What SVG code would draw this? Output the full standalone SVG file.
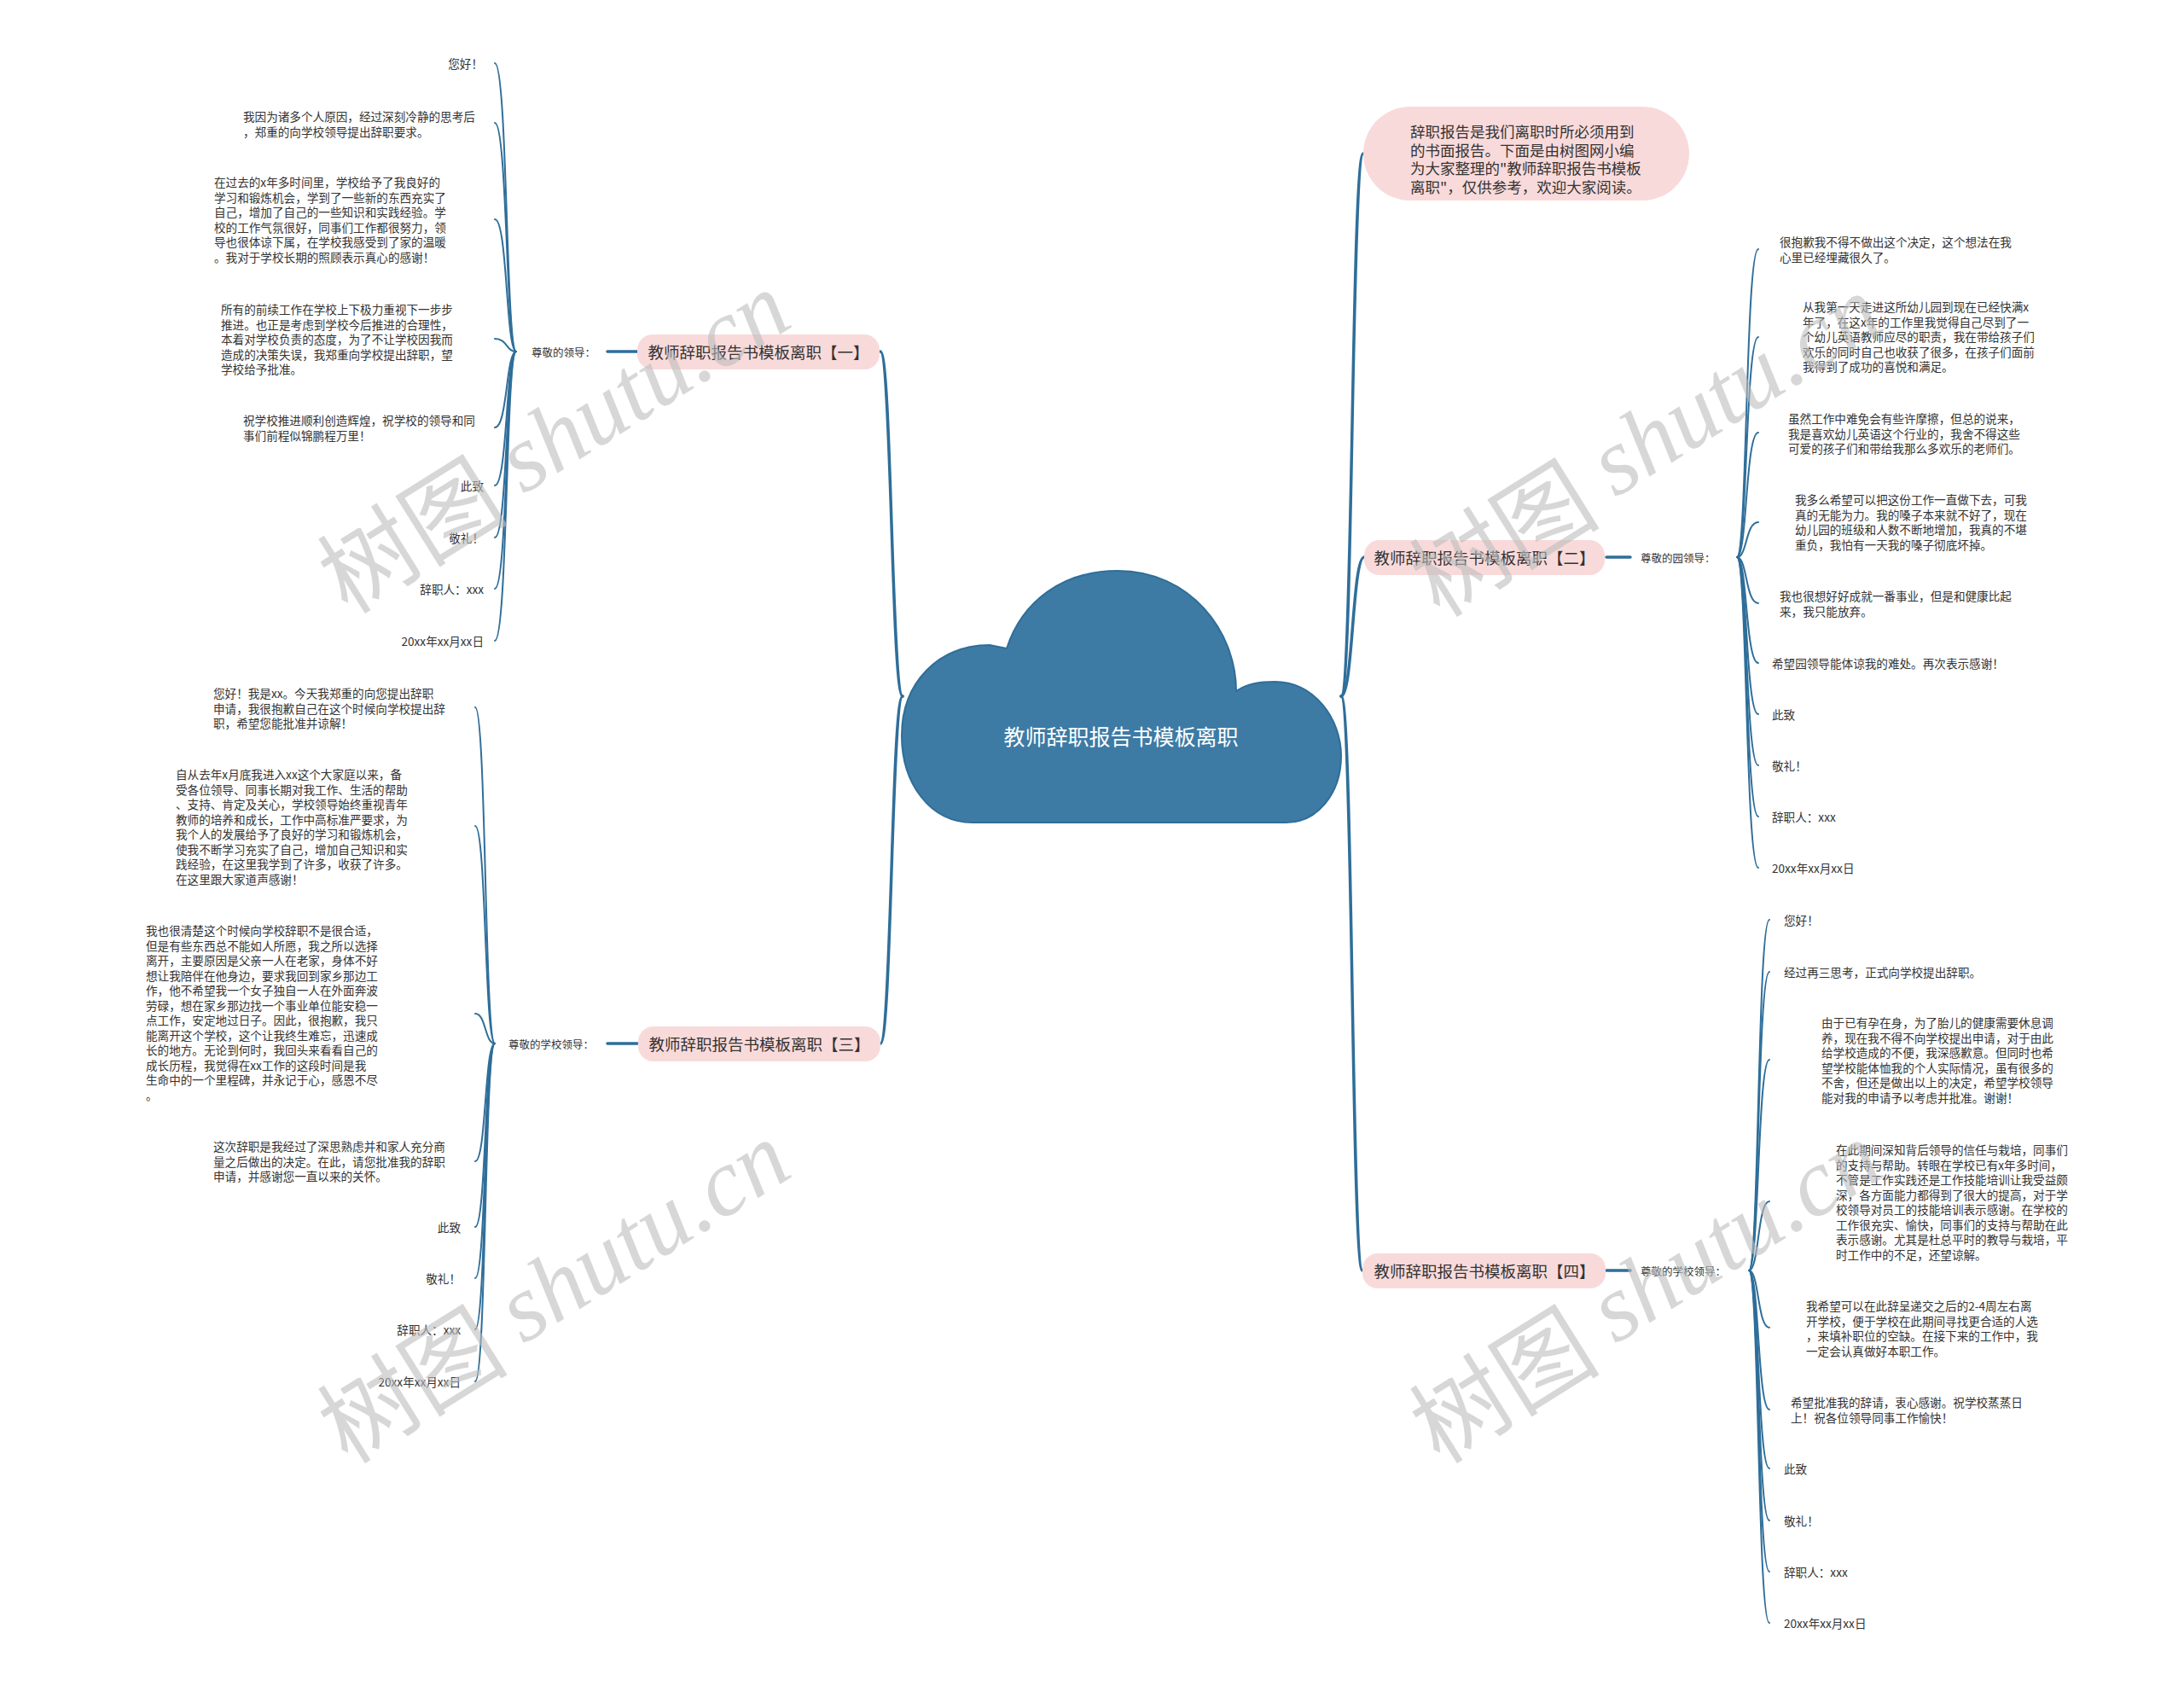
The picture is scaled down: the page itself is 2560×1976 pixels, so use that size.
<svg xmlns="http://www.w3.org/2000/svg" width="2560" height="1976" viewBox="0 0 2560 1976">
<style>
.t{font-family:"Noto Sans CJK SC","Noto Sans",sans-serif;font-size:13.6px;fill:#333;dominant-baseline:central}
.lb{font-size:12.5px}
.nt{font-size:18.5px;text-anchor:middle}
.ct{font-size:17.5px}
.e{text-anchor:end}
.node{fill:#f9dada}
.c{fill:none;stroke:#2f6e99;stroke-width:2;stroke-linecap:round}
.m{stroke-width:3.5}
.wm{font-family:"Noto Sans CJK SC",sans-serif;font-size:112px;fill:#bdbdbd;opacity:0.6}
.wm tspan.l{font-family:"Liberation Serif",serif;font-style:italic}
</style>
<rect width="2560" height="1976" fill="#ffffff"/>
<g id="connectors">
<path class="c m" d="M1058 816 C1045 816 1045 412 1032 412"/>
<path class="c m" d="M1058 816 C1045 816 1045 1223 1032 1223"/>
<path class="c m" d="M1572 816 C1586 816 1584 180 1598 180"/>
<path class="c m" d="M1572 816 C1586 816 1585 653 1599 653"/>
<path class="c m" d="M1572 816 C1586 816 1584 1489 1597 1489"/>
<path class="c m" d="M712 412 H747"/>
<path class="c m" d="M712 1223 H747"/>
<path class="c m" d="M1883 653 H1911"/>
<path class="c m" d="M1883 1489 H1911"/>
<path class="c" d="M605 412 C593 412 595 74 580 74"/>
<path class="c" d="M605 412 C593 412 595 144 580 144"/>
<path class="c" d="M605 412 C593 412 595 257 580 257"/>
<path class="c" d="M605 412 C593 412 595 397 580 397"/>
<path class="c" d="M605 412 C593 412 595 501 580 501"/>
<path class="c" d="M605 412 C593 412 595 569 580 569"/>
<path class="c" d="M605 412 C593 412 595 630 580 630"/>
<path class="c" d="M605 412 C593 412 595 690 580 690"/>
<path class="c" d="M605 412 C593 412 595 751 580 751"/>
<path class="c" d="M580 1223 C568 1223 570 829 557 829"/>
<path class="c" d="M580 1223 C568 1223 570 968 557 968"/>
<path class="c" d="M580 1223 C568 1223 570 1188 557 1188"/>
<path class="c" d="M580 1223 C568 1223 570 1361 557 1361"/>
<path class="c" d="M580 1223 C568 1223 570 1438 557 1438"/>
<path class="c" d="M580 1223 C568 1223 570 1498 557 1498"/>
<path class="c" d="M580 1223 C568 1223 570 1558 557 1558"/>
<path class="c" d="M580 1223 C568 1223 570 1619 557 1619"/>
<path class="c" d="M2036 653 C2048 653 2046 292 2061 292"/>
<path class="c" d="M2036 653 C2048 653 2046 395 2061 395"/>
<path class="c" d="M2036 653 C2048 653 2046 507 2061 507"/>
<path class="c" d="M2036 653 C2048 653 2046 612 2061 612"/>
<path class="c" d="M2036 653 C2048 653 2046 707 2061 707"/>
<path class="c" d="M2036 653 C2048 653 2046 777 2061 777"/>
<path class="c" d="M2036 653 C2048 653 2046 837 2061 837"/>
<path class="c" d="M2036 653 C2048 653 2046 897 2061 897"/>
<path class="c" d="M2036 653 C2048 653 2046 957 2061 957"/>
<path class="c" d="M2036 653 C2048 653 2046 1017 2061 1017"/>
<path class="c" d="M2050 1489 C2062 1489 2060 1078 2074 1078"/>
<path class="c" d="M2050 1489 C2062 1489 2060 1139 2074 1139"/>
<path class="c" d="M2050 1489 C2062 1489 2060 1242 2074 1242"/>
<path class="c" d="M2050 1489 C2062 1489 2060 1408 2074 1408"/>
<path class="c" d="M2050 1489 C2062 1489 2060 1556 2074 1556"/>
<path class="c" d="M2050 1489 C2062 1489 2060 1652 2074 1652"/>
<path class="c" d="M2050 1489 C2062 1489 2060 1721 2074 1721"/>
<path class="c" d="M2050 1489 C2062 1489 2060 1782 2074 1782"/>
<path class="c" d="M2050 1489 C2062 1489 2060 1842 2074 1842"/>
<path class="c" d="M2050 1489 C2062 1489 2060 1902 2074 1902"/>
</g>
<g id="root">
<path d="M1140 964 C1090 964 1057 918 1057 862 C1057 800 1100 756 1160 756 L1180 760 C1198 705 1245 669 1310 669 C1395 669 1449 740 1449 810 C1462 801 1476 799 1494 799 C1540 799 1572 842 1572 886 C1572 932 1542 964 1508 964 Z" fill="#3d7ba5" stroke="#2f6e99" stroke-width="2"/>
<text class="t" x="1314" y="862" style="font-size:25px;fill:#fff;text-anchor:middle">教师辞职报告书模板离职</text>
</g>
<g id="intro">
<rect class="node" x="1598" y="125" width="382" height="110" rx="55"/>
<text class="t ct" x="1653" y="153"><tspan x="1653" y="153">辞职报告是我们离职时所必须用到</tspan><tspan x="1653" y="174.5">的书面报告。下面是由树图网小编</tspan><tspan x="1653" y="196">为大家整理的"教师辞职报告书模板</tspan><tspan x="1653" y="217.5">离职"，仅供参考，欢迎大家阅读。</tspan></text>
</g>
<g id="branch1">
<rect class="node" x="747" y="392" width="284" height="41" rx="18"/>
<text class="t nt" x="889" y="412">教师辞职报告书模板离职【一】</text>
</g>
<g id="label1"><text class="t lb" x="623" y="412">尊敬的领导：</text></g>
<g id="b1c1"><text class="t e" x="566" y="74">您好！</text></g>
<g id="b1c2"><text class="t"><tspan x="285" y="136">我因为诸多个人原因，经过深刻冷静的思考后</tspan><tspan x="285" y="153.5">，郑重的向学校领导提出辞职要求。</tspan></text></g>
<g id="b1c3"><text class="t"><tspan x="251" y="213">在过去的x年多时间里，学校给予了我良好的</tspan><tspan x="251" y="230.5">学习和锻炼机会，学到了一些新的东西充实了</tspan><tspan x="251" y="248">自己，增加了自己的一些知识和实践经验。学</tspan><tspan x="251" y="265.5">校的工作气氛很好，同事们工作都很努力，领</tspan><tspan x="251" y="283">导也很体谅下属，在学校我感受到了家的温暖</tspan><tspan x="251" y="300.5">。我对于学校长期的照顾表示真心的感谢！</tspan></text></g>
<g id="b1c4"><text class="t"><tspan x="259" y="362">所有的前续工作在学校上下极力重视下一步步</tspan><tspan x="259" y="379.5">推进。也正是考虑到学校今后推进的合理性，</tspan><tspan x="259" y="397">本着对学校负责的态度，为了不让学校因我而</tspan><tspan x="259" y="414.5">造成的决策失误，我郑重向学校提出辞职，望</tspan><tspan x="259" y="432">学校给予批准。</tspan></text></g>
<g id="b1c5"><text class="t"><tspan x="285" y="492">祝学校推进顺利创造辉煌，祝学校的领导和同</tspan><tspan x="285" y="509.5">事们前程似锦鹏程万里！</tspan></text></g>
<g id="b1c6"><text class="t e" x="567" y="569">此致</text></g>
<g id="b1c7"><text class="t e" x="567" y="630">敬礼！</text></g>
<g id="b1c8"><text class="t e" x="567" y="690">辞职人：xxx</text></g>
<g id="b1c9"><text class="t e" x="567" y="751">20xx年xx月xx日</text></g>
<g id="branch3">
<rect class="node" x="748" y="1203" width="284" height="41" rx="18"/>
<text class="t nt" x="890" y="1223">教师辞职报告书模板离职【三】</text>
</g>
<g id="label3"><text class="t lb" x="596" y="1223">尊敬的学校领导：</text></g>
<g id="b3c1"><text class="t"><tspan x="250" y="812">您好！我是xx。今天我郑重的向您提出辞职</tspan><tspan x="250" y="829.5">申请，我很抱歉自己在这个时候向学校提出辞</tspan><tspan x="250" y="847">职，希望您能批准并谅解！</tspan></text></g>
<g id="b3c2"><text class="t"><tspan x="206" y="907">自从去年x月底我进入xx这个大家庭以来，备</tspan><tspan x="206" y="924.5">受各位领导、同事长期对我工作、生活的帮助</tspan><tspan x="206" y="942">、支持、肯定及关心，学校领导始终重视青年</tspan><tspan x="206" y="959.5">教师的培养和成长，工作中高标准严要求，为</tspan><tspan x="206" y="977">我个人的发展给予了良好的学习和锻炼机会，</tspan><tspan x="206" y="994.5">使我不断学习充实了自己，增加自己知识和实</tspan><tspan x="206" y="1012">践经验，在这里我学到了许多，收获了许多。</tspan><tspan x="206" y="1029.5">在这里跟大家道声感谢！</tspan></text></g>
<g id="b3c3"><text class="t"><tspan x="171" y="1090">我也很清楚这个时候向学校辞职不是很合适，</tspan><tspan x="171" y="1107.5">但是有些东西总不能如人所愿，我之所以选择</tspan><tspan x="171" y="1125">离开，主要原因是父亲一人在老家，身体不好</tspan><tspan x="171" y="1142.5">想让我陪伴在他身边，要求我回到家乡那边工</tspan><tspan x="171" y="1160">作，他不希望我一个女子独自一人在外面奔波</tspan><tspan x="171" y="1177.5">劳碌，想在家乡那边找一个事业单位能安稳一</tspan><tspan x="171" y="1195">点工作，安定地过日子。因此，很抱歉，我只</tspan><tspan x="171" y="1212.5">能离开这个学校，这个让我终生难忘，迅速成</tspan><tspan x="171" y="1230">长的地方。无论到何时，我回头来看看自己的</tspan><tspan x="171" y="1247.5">成长历程，我觉得在xx工作的这段时间是我</tspan><tspan x="171" y="1265">生命中的一个里程碑，并永记于心，感恩不尽</tspan><tspan x="171" y="1282.5">。</tspan></text></g>
<g id="b3c4"><text class="t"><tspan x="250" y="1343">这次辞职是我经过了深思熟虑并和家人充分商</tspan><tspan x="250" y="1360.5">量之后做出的决定。在此，请您批准我的辞职</tspan><tspan x="250" y="1378">申请，并感谢您一直以来的关怀。</tspan></text></g>
<g id="b3c5"><text class="t e" x="540" y="1438">此致</text></g>
<g id="b3c6"><text class="t e" x="540" y="1498">敬礼！</text></g>
<g id="b3c7"><text class="t e" x="540" y="1558">辞职人：xxx</text></g>
<g id="b3c8"><text class="t e" x="540" y="1619">20xx年xx月xx日</text></g>
<g id="branch2">
<rect class="node" x="1599" y="633" width="282" height="41" rx="18"/>
<text class="t nt" x="1740" y="653">教师辞职报告书模板离职【二】</text>
</g>
<g id="label2"><text class="t lb" x="1923" y="653">尊敬的园领导：</text></g>
<g id="b2c1"><text class="t"><tspan x="2086" y="283">很抱歉我不得不做出这个决定，这个想法在我</tspan><tspan x="2086" y="300.5">心里已经埋藏很久了。</tspan></text></g>
<g id="b2c2"><text class="t"><tspan x="2113" y="359">从我第一天走进这所幼儿园到现在已经快满x</tspan><tspan x="2113" y="376.5">年了，在这x年的工作里我觉得自己尽到了一</tspan><tspan x="2113" y="394">个幼儿英语教师应尽的职责，我在带给孩子们</tspan><tspan x="2113" y="411.5">欢乐的同时自己也收获了很多，在孩子们面前</tspan><tspan x="2113" y="429">我得到了成功的喜悦和满足。</tspan></text></g>
<g id="b2c3"><text class="t"><tspan x="2096" y="490">虽然工作中难免会有些许摩擦，但总的说来，</tspan><tspan x="2096" y="507.5">我是喜欢幼儿英语这个行业的，我舍不得这些</tspan><tspan x="2096" y="525">可爱的孩子们和带给我那么多欢乐的老师们。</tspan></text></g>
<g id="b2c4"><text class="t"><tspan x="2104" y="585">我多么希望可以把这份工作一直做下去，可我</tspan><tspan x="2104" y="602.5">真的无能为力。我的嗓子本来就不好了，现在</tspan><tspan x="2104" y="620">幼儿园的班级和人数不断地增加，我真的不堪</tspan><tspan x="2104" y="637.5">重负，我怕有一天我的嗓子彻底坏掉。</tspan></text></g>
<g id="b2c5"><text class="t"><tspan x="2086" y="698">我也很想好好成就一番事业，但是和健康比起</tspan><tspan x="2086" y="715.5">来，我只能放弃。</tspan></text></g>
<g id="b2c6"><text class="t" x="2077" y="777">希望园领导能体谅我的难处。再次表示感谢！</text></g>
<g id="b2c7"><text class="t" x="2077" y="837">此致</text></g>
<g id="b2c8"><text class="t" x="2077" y="897">敬礼！</text></g>
<g id="b2c9"><text class="t" x="2077" y="957">辞职人：xxx</text></g>
<g id="b2c10"><text class="t" x="2077" y="1017">20xx年xx月xx日</text></g>
<g id="branch4">
<rect class="node" x="1597" y="1469" width="285" height="41" rx="18"/>
<text class="t nt" x="1740" y="1489">教师辞职报告书模板离职【四】</text>
</g>
<g id="label4"><text class="t lb" x="1923" y="1489">尊敬的学校领导：</text></g>
<g id="b4c1"><text class="t" x="2091" y="1078">您好！</text></g>
<g id="b4c2"><text class="t" x="2091" y="1139">经过再三思考，正式向学校提出辞职。</text></g>
<g id="b4c3"><text class="t"><tspan x="2135" y="1198">由于已有孕在身，为了胎儿的健康需要休息调</tspan><tspan x="2135" y="1215.5">养，现在我不得不向学校提出申请，对于由此</tspan><tspan x="2135" y="1233">给学校造成的不便，我深感歉意。但同时也希</tspan><tspan x="2135" y="1250.5">望学校能体恤我的个人实际情况，虽有很多的</tspan><tspan x="2135" y="1268">不舍，但还是做出以上的决定，希望学校领导</tspan><tspan x="2135" y="1285.5">能对我的申请予以考虑并批准。谢谢！</tspan></text></g>
<g id="b4c4"><text class="t"><tspan x="2152" y="1347">在此期间深知背后领导的信任与栽培，同事们</tspan><tspan x="2152" y="1364.5">的支持与帮助。转眼在学校已有x年多时间，</tspan><tspan x="2152" y="1382">不管是工作实践还是工作技能培训让我受益颇</tspan><tspan x="2152" y="1399.5">深，各方面能力都得到了很大的提高，对于学</tspan><tspan x="2152" y="1417">校领导对员工的技能培训表示感谢。在学校的</tspan><tspan x="2152" y="1434.5">工作很充实、愉快，同事们的支持与帮助在此</tspan><tspan x="2152" y="1452">表示感谢。尤其是杜总平时的教导与栽培，平</tspan><tspan x="2152" y="1469.5">时工作中的不足，还望谅解。</tspan></text></g>
<g id="b4c5"><text class="t"><tspan x="2117" y="1530">我希望可以在此辞呈递交之后的2-4周左右离</tspan><tspan x="2117" y="1547.5">开学校，便于学校在此期间寻找更合适的人选</tspan><tspan x="2117" y="1565">，来填补职位的空缺。在接下来的工作中，我</tspan><tspan x="2117" y="1582.5">一定会认真做好本职工作。</tspan></text></g>
<g id="b4c6"><text class="t"><tspan x="2099" y="1643">希望批准我的辞请，衷心感谢。祝学校蒸蒸日</tspan><tspan x="2099" y="1660.5">上！祝各位领导同事工作愉快！</tspan></text></g>
<g id="b4c7"><text class="t" x="2091" y="1721">此致</text></g>
<g id="b4c8"><text class="t" x="2091" y="1782">敬礼！</text></g>
<g id="b4c9"><text class="t" x="2091" y="1842">辞职人：xxx</text></g>
<g id="b4c10"><text class="t" x="2091" y="1902">20xx年xx月xx日</text></g>
<g id="watermarks">
<text class="wm" transform="translate(647 514) rotate(-32)" text-anchor="middle" dominant-baseline="central">树图 <tspan class="l">shutu.cn</tspan></text>
<text class="wm" transform="translate(647 1510) rotate(-32)" text-anchor="middle" dominant-baseline="central">树图 <tspan class="l">shutu.cn</tspan></text>
<text class="wm" transform="translate(1927 518) rotate(-32)" text-anchor="middle" dominant-baseline="central">树图 <tspan class="l">shutu.cn</tspan></text>
<text class="wm" transform="translate(1927 1510) rotate(-32)" text-anchor="middle" dominant-baseline="central">树图 <tspan class="l">shutu.cn</tspan></text>
</g>
</svg>
